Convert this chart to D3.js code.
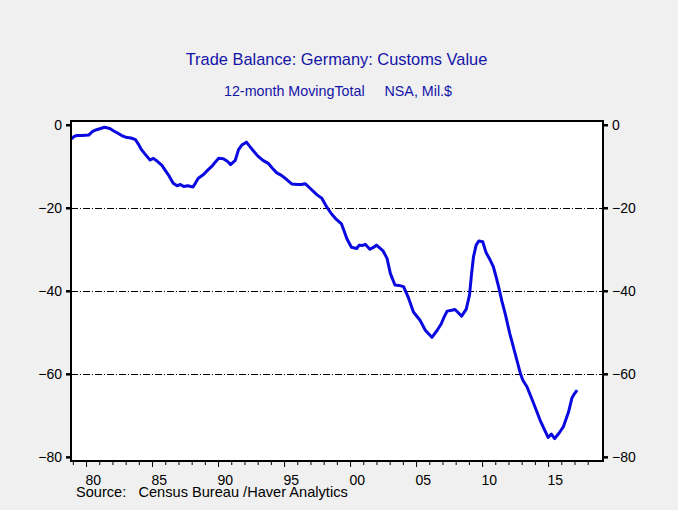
<!DOCTYPE html>
<html>
<head>
<meta charset="utf-8">
<script src="https://cdn.jsdelivr.net/npm/d3@7"></script>
<style>
  body { margin: 0; background: #f0f0f0; }
  text { font-family: "Liberation Sans", Arial, sans-serif; }
</style>
</head>
<body>
<div id="chart"></div>
<script>
// decimal years and 12-month moving total, bil. $
const years = [1978.9, 1979.1, 1979.3, 1979.7, 1980.2, 1980.5, 1980.8, 1981.1, 1981.4, 1981.8,
  1982.1, 1982.45, 1982.7, 1983.0, 1983.4, 1983.75, 1983.95, 1984.2, 1984.5, 1984.85,
  1985.1, 1985.4, 1985.75, 1986.0, 1986.3, 1986.6, 1986.9, 1987.15, 1987.4, 1987.7,
  1988.1, 1988.3, 1988.5, 1988.9, 1989.2, 1989.5, 1989.8, 1990.05, 1990.4, 1990.7,
  1990.95, 1991.3, 1991.55, 1991.8, 1992.15, 1992.4, 1992.7, 1993.0, 1993.4, 1993.8,
  1994.1, 1994.45, 1994.8, 1995.2, 1995.6, 1996.0, 1996.3, 1996.6, 1996.97, 1997.5,
  1997.86, 1998.23, 1998.6, 1998.9, 1999.35, 1999.55, 1999.75, 2000.1, 2000.5, 2000.7,
  2000.9, 2001.15, 2001.5, 2001.8, 2002.0, 2002.5, 2002.8, 2003.05, 2003.4, 2003.7,
  2004.05, 2004.4, 2004.8, 2005.3, 2005.7, 2006.2, 2006.6, 2006.9, 2007.1, 2007.35,
  2007.7, 2007.95, 2008.2, 2008.45, 2008.8, 2009.05, 2009.2, 2009.35, 2009.55, 2009.75,
  2010.05, 2010.3, 2010.55, 2010.85, 2011.05, 2011.25, 2011.5, 2011.75, 2012.1, 2012.5,
  2012.9, 2013.1, 2013.4, 2013.9, 2014.4, 2014.75, 2015.0, 2015.25, 2015.5, 2015.85,
  2016.15, 2016.55, 2016.8, 2016.95, 2017.2]
const values = [-3.4, -2.8, -2.6, -2.6, -2.5, -1.6, -1.2, -0.9, -0.6, -0.9,
  -1.5, -2.1, -2.6, -3.0, -3.2, -3.6, -4.6, -6.0, -7.2, -8.5,
  -8.1, -8.8, -9.8, -11.0, -12.4, -14.1, -14.7, -14.4, -14.9, -14.7,
  -15.0, -14.0, -12.9, -12.0, -11.0, -10.1, -9.0, -8.1, -8.2, -8.8,
  -9.6, -8.6, -6.0, -4.9, -4.2, -5.2, -6.4, -7.5, -8.6, -9.3,
  -10.4, -11.6, -12.2, -13.2, -14.3, -14.4, -14.4, -14.2, -15.3, -16.9,
  -17.7, -19.8, -21.5, -22.6, -23.9, -25.6, -27.4, -29.5, -29.8, -29.0,
  -29.1, -28.8, -30.0, -29.5, -29.0, -30.4, -32.2, -35.8, -38.6, -38.7,
  -39.0, -41.5, -45.1, -47.1, -49.5, -51.2, -49.5, -48.0, -46.5, -44.9,
  -44.7, -44.5, -45.3, -46.1, -44.4, -41.0, -36.0, -31.8, -29.0, -28.0,
  -28.2, -30.8, -32.2, -34.2, -36.5, -39.0, -42.5, -45.5, -50.3, -55.1,
  -59.9, -61.6, -63.1, -67.1, -71.2, -73.6, -75.3, -74.5, -75.6, -74.2,
  -72.8, -69.2, -65.9, -65.0, -63.9]
const yTicks = [0, -20, -40, -60, -80]
const gridTicks = [-20, -40, -60]
const xTickYears = [1980, 1985, 1990, 1995, 2000, 2005, 2010, 2015]
const xTickLabels = ["80", "85", "90", "95", "00", "05", "10", "15"]

const width = 678, height = 510
const plot = { left: 71, right: 603, top: 121, bottom: 461 }

const svg = d3.select("#chart").append("svg")
    .attr("width", width)
    .attr("height", height)
svg.append("rect").attr("width", width).attr("height", height).attr("fill", "#f0f0f0")

const x = d3.scaleLinear().domain([1978.86, 2019.16]).range([plot.left, plot.right])
const y = d3.scaleLinear().domain([-81.0, 0.9]).range([plot.bottom, plot.top])

// plot area
svg.append("rect")
    .attr("x", plot.left).attr("y", plot.top)
    .attr("width", plot.right - plot.left).attr("height", plot.bottom - plot.top)
    .attr("fill", "#fff")

// gridlines (dash-dot)
svg.append("g").selectAll("line")
    .data(gridTicks)
    .join("line")
    .attr("x1", plot.left).attr("x2", plot.right)
    .attr("y1", d => Math.round(y(d)) + 0.5).attr("y2", d => Math.round(y(d)) + 0.5)
    .attr("stroke", "#000")
    .attr("stroke-width", 1)
    .attr("stroke-dasharray", "7,2,1,2")

// the series
const pts = years.map((yr, i) => [yr, values[i]])
svg.append("path")
    .datum(pts)
    .attr("fill", "none")
    .attr("stroke", "#0a0ae0")
    .attr("stroke-width", 3)
    .attr("stroke-linejoin", "round")
    .attr("d", d3.line().x(d => x(d[0])).y(d => y(d[1])))

// frame
svg.append("rect")
    .attr("x", plot.left).attr("y", plot.top)
    .attr("width", plot.right - plot.left).attr("height", plot.bottom - plot.top)
    .attr("fill", "none").attr("stroke", "#000").attr("stroke-width", 2)

// y axes, left and right
const yLeft = svg.append("g")
    .attr("transform", "translate(" + plot.left + ",0)")
    .call(d3.axisLeft(y).tickValues(yTicks).tickSize(5).tickPadding(4).tickFormat(d3.format("d")))
const yRight = svg.append("g")
    .attr("transform", "translate(" + plot.right + ",0)")
    .call(d3.axisRight(y).tickValues(yTicks).tickSize(5).tickPadding(4).tickFormat(d3.format("d")))
;[yLeft, yRight].forEach(a => {
    a.select(".domain").remove()
    a.selectAll("line").attr("stroke-width", 2.5)
    a.selectAll("text").style("font-size", "14px").attr("fill", "#000")
        .style("font-family", "'Liberation Sans', Arial, sans-serif")
})

// x axis: minor ticks each year, longer every 5 years
const xAxis = svg.append("g")
    .attr("transform", "translate(0," + plot.bottom + ")")
    .call(d3.axisBottom(x).tickValues(d3.range(1979, 2019)).tickSize(4).tickFormat(""))
xAxis.select(".domain").remove()
xAxis.selectAll("line").attr("stroke-width", 1)
xAxis.selectAll(".tick").filter(d => d % 5 === 0).select("line").attr("y2", 6)

svg.append("g").selectAll("text")
    .data(xTickYears)
    .join("text")
    .attr("x", d => x(d + 0.55))
    .attr("y", 485)
    .attr("text-anchor", "middle")
    .style("font-size", "14px")
    .text((d, i) => xTickLabels[i])

// titles
svg.append("text")
    .attr("x", 336.5).attr("y", 65)
    .attr("text-anchor", "middle")
    .attr("fill", "#1414a8")
    .style("font-size", "16.4px")
    .text("Trade Balance: Germany: Customs Value")
svg.append("text")
    .attr("x", 338).attr("y", 96)
    .attr("text-anchor", "middle")
    .attr("fill", "#1414a8")
    .style("font-size", "14.3px")
    .style("white-space", "pre")
    .attr("xml:space", "preserve")
    .text("12-month MovingTotal     NSA, Mil.$")

svg.append("text")
    .attr("x", 76).attr("y", 497)
    .style("font-size", "14.6px")
    .style("white-space", "pre")
    .attr("xml:space", "preserve")
    .text("Source:   Census Bureau /Haver Analytics")
</script>
</body>
</html>
